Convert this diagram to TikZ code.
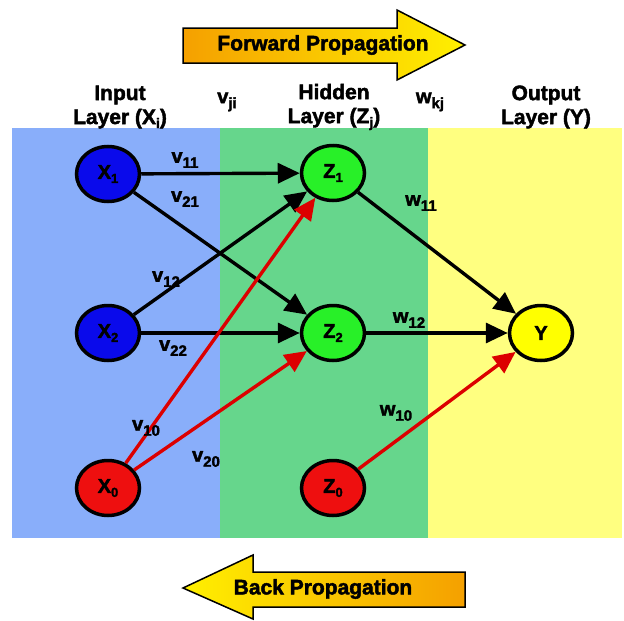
\documentclass[tikz,border=0pt]{standalone}
\usepackage{fontspec}
\setmainfont{Liberation Sans}[BoldFeatures={FakeBold=2}]
\usetikzlibrary{shapes.geometric,arrows.meta}
\definecolor{bgblue}{RGB}{137,174,250}
\definecolor{bggreen}{RGB}{102,214,140}
\definecolor{bgyellow}{RGB}{255,255,128}
\definecolor{nblue}{RGB}{10,10,235}
\definecolor{ngreen}{RGB}{40,240,40}
\definecolor{nred}{RGB}{238,15,15}
\definecolor{nyellow}{RGB}{255,255,0}
\definecolor{arrorange}{RGB}{245,160,0}
\definecolor{arryellow}{RGB}{255,240,0}
\definecolor{edgered}{RGB}{220,0,0}
\newcommand\wsub[1]{\raisebox{-5pt}{\fontsize{15}{15}\selectfont #1}}
\newcommand\nsub[1]{\raisebox{-4pt}{\fontsize{13}{13}\selectfont #1}}
\newcommand\hsub[1]{\raisebox{-4pt}{\fontsize{14}{14}\selectfont #1}}
\tikzset{
  neuron/.style={ellipse, draw=black, line width=3.5pt, minimum width=63pt, minimum height=55pt, inner sep=0pt, font=\bfseries\fontsize{20}{20}\selectfont},
  conn/.style={line width=3.4pt, -{Triangle[length=22pt,width=20pt]}},
  redconn/.style={conn, draw=edgered, -{Triangle[length=22pt,width=20pt,fill=edgered]}},
  wlabel/.style={font=\bfseries\fontsize{20}{20}\selectfont, inner sep=0pt},
  header/.style={font=\bfseries\fontsize{21}{24}\selectfont, align=center, inner sep=0pt},
  bigarrow/.style={draw=black, line width=1.5pt},
  arrtext/.style={font=\bfseries\fontsize{21}{21}\selectfont, inner sep=0pt}
}
\begin{document}
\begin{tikzpicture}[x=1pt,y=-1pt]
\useasboundingbox (0,0) rectangle (624,621);
% backgrounds
\fill[bgblue] (12,128) rectangle (220,538);
\fill[bggreen] (220,128) rectangle (428,538);
\fill[bgyellow] (428,128) rectangle (622,538);
% propagation arrows
\path[bigarrow, left color=arrorange, right color=arryellow] (183,28) -- (397,28) -- (397,10) -- (465,45) -- (397,80) -- (397,63) -- (183,63) -- cycle;
\node[arrtext] (fwd) at (323,45) {Forward Propagation};
\path[bigarrow, left color=arryellow, right color=arrorange] (183,588) -- (253,555) -- (253,572) -- (465,572) -- (465,607) -- (253,607) -- (253,619) -- cycle;
\node[arrtext] (bwd) at (323,589) {Back Propagation};
% headers
\node[header] (hin) at (120,107) {Input\\Layer (X\hsub{i})};
\node[header] (hhid) at (334,107) {Hidden\\Layer (Z\hsub{j})};
\node[header] (hout) at (546,107) {Output\\Layer (Y)};
\node[wlabel] (vji) at (227,102) {v\wsub{ji}};
\node[wlabel] (wkj) at (430,102) {w\wsub{kj}};
% nodes
\node[neuron, fill=nblue] (x1) at (108,174) {X\nsub{1}};
\node[neuron, fill=nblue] (x2) at (108,333) {X\nsub{2}};
\node[neuron, fill=nred] (x0) at (108,488) {X\nsub{0}};
\node[neuron, fill=ngreen] (z1) at (333,173) {Z\nsub{1}};
\node[neuron, fill=ngreen] (z2) at (333,333) {Z\nsub{2}};
\node[neuron, fill=nred] (z0) at (333,488) {Z\nsub{0}};
\node[neuron, fill=nyellow] (y) at (541,333) {Y};
% connectors
\draw[conn] (x1) -- (z1);
\draw[conn] (x1) -- (z2);
\draw[conn] (x2) -- (z1);
\draw[conn] (x2) -- (z2);
\draw[redconn] (x0) -- (z1);
\draw[redconn] (x0) -- (z2);
\draw[conn] (z1) -- (y);
\draw[conn] (z2) -- (y);
\draw[redconn] (z0) -- (y);
% weight labels
\node[wlabel] (v11) at (185,160) {v\wsub{11}};
\node[wlabel] (v21) at (185,199) {v\wsub{21}};
\node[wlabel] (v12) at (166,279) {v\wsub{12}};
\node[wlabel] (v22) at (173,348) {v\wsub{22}};
\node[wlabel] (v10) at (146,428) {v\wsub{10}};
\node[wlabel] (v20) at (206,459) {v\wsub{20}};
\node[wlabel] (w11) at (421,203) {w\wsub{11}};
\node[wlabel] (w12) at (409,320) {w\wsub{12}};
\node[wlabel] (w10) at (396,413) {w\wsub{10}};
\end{tikzpicture}
\end{document}
